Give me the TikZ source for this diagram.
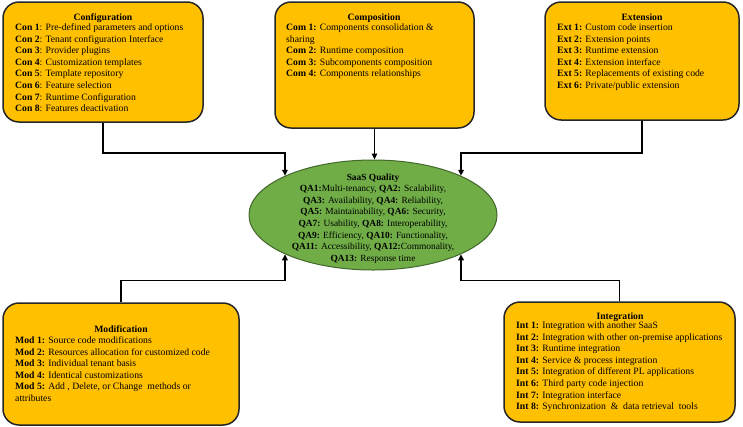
\documentclass[tikz,border=0pt]{standalone}
\usepackage{fontspec}
\setmainfont{Liberation Serif}
\usetikzlibrary{shapes.geometric,arrows.meta}
\definecolor{boxfill}{HTML}{FFC000}
\definecolor{qafill}{HTML}{70AD47}
\definecolor{qaedge}{HTML}{41672A}
\definecolor{edge}{HTML}{262626}
\tikzset{
  card/.style={draw=edge, fill=boxfill, line width=1.5pt, rounded corners=16pt, inner sep=0pt},
  ttl/.style={font=\fontsize{9.7}{11.6}\selectfont\bfseries, anchor=base, inner sep=0pt},
  lst/.style={font=\fontsize{9.7}{11.6}\selectfont, align=left, anchor=north west, inner sep=0pt},
  qual/.style={ellipse, draw=qaedge, fill=qafill, line width=1pt, minimum width=248pt, minimum height=110pt, inner sep=0pt},
  qtext/.style={align=center, inner sep=0pt, font=\fontsize{9.4}{11.6}\selectfont},
  conn/.style={draw=black, line width=1.5pt, -{Triangle[length=6pt,width=5.5pt]}}
}
\begin{document}
\begin{tikzpicture}[x=1pt,y=-1pt]
\path[use as bounding box] (0,0) rectangle (743,426);
% boxes
\node[card, minimum width=200pt, minimum height=120pt] (conf) at (103,62) {};
\node[card, minimum width=199pt, minimum height=126pt] (com) at (374.5,65) {};
\node[card, minimum width=194pt, minimum height=118pt] (ext) at (642,61) {};
\node[card, minimum width=236pt, minimum height=122pt] (mod) at (121,364) {};
\node[card, minimum width=231pt, minimum height=120pt] (int) at (619.5,362) {};
% quality ellipse
\node[qual] (qa) at (373,215) {};
\node[qtext] (qat) at (373,218.5) {\textbf{SaaS Quality}\\
\textbf{QA1:}Multi-tenancy, \textbf{QA2:} Scalability,\\
\textbf{QA3:} Availability, \textbf{QA4:} Reliability,\\
\textbf{QA5:} Maintainability, \textbf{QA6:} Security,\\
\textbf{QA7:} Usability, \textbf{QA8:} Interoperability,\\
\textbf{QA9:} Efficiency, \textbf{QA10:} Functionality,\\
\textbf{QA11:} Accessibility, \textbf{QA12:}Commonality,\\
\textbf{QA13:} Response time};
% texts
\node[ttl] (conft) at (103,20.5) {Configuration};
\node[lst] (confl) at (15,23.5) {\textbf{Con 1}: Pre-defined parameters and options\\
\textbf{Con 2}: Tenant configuration Interface\\
\textbf{Con 3}: Provider plugins\\
\textbf{Con 4}: Customization templates\\
\textbf{Con 5}: Template repository\\
\textbf{Con 6}: Feature selection\\
\textbf{Con 7}: Runtime Configuration\\
\textbf{Con 8}: Features deactivation};
\node[ttl] (comt) at (374,20.5) {Composition};
\node[lst] (coml) at (286,23.5) {\textbf{Com 1:} Components consolidation \&\\
sharing\\
\textbf{Com 2:} Runtime composition\\
\textbf{Com 3:} Subcomponents composition\\
\textbf{Com 4:} Components relationships};
\node[ttl] (extt) at (642,20.5) {Extension};
\node[lst] (extl) at (557,23.5) {\textbf{Ext 1:} Custom code insertion\\
\textbf{Ext 2:} Extension points\\
\textbf{Ext 3:} Runtime extension\\
\textbf{Ext 4:} Extension interface\\
\textbf{Ext 5:} Replacements of existing code\\
\textbf{Ext 6:} Private/public extension};
\node[ttl] (modt) at (121,332.5) {Modification};
\node[lst] (modl) at (15,336.5) {\textbf{Mod 1:} Source code modifications\\
\textbf{Mod 2:} Resources allocation for customized code\\
\textbf{Mod 3:} Individual tenant basis\\
\textbf{Mod 4:} Identical customizations\\
\textbf{Mod 5:} Add , Delete, or Change\ \ methods or\\
attributes};
\node[ttl] (intt) at (620,319.5) {Integration};
\node[lst] (intl) at (516,321.5) {\textbf{Int 1:} Integration with another SaaS\\
\textbf{Int 2:} Integration with other on-premise applications\\
\textbf{Int 3:} Runtime integration\\
\textbf{Int 4:} Service \& process integration\\
\textbf{Int 5:} Integration of different PL applications\\
\textbf{Int 6:} Third party code injection\\
\textbf{Int 7:} Integration interface\\
\textbf{Int 8:} Synchronization\ \ \&\ \ data retrieval\ \ tools};
% connectors
\draw[conn] (conf.south) -- ++(0,30) -| (qa.north west);
\draw[conn] (ext.south) -- ++(0,32) -| (qa.north east);
\draw[conn] (com.south) -- (com.south |- qa.north);
\draw[conn] (mod.north) -- ++(0,-22) -| (qa.south west);
\draw[conn] (int.north) -- ++(0,-21) -| (qa.south east);
\end{tikzpicture}
\end{document}
